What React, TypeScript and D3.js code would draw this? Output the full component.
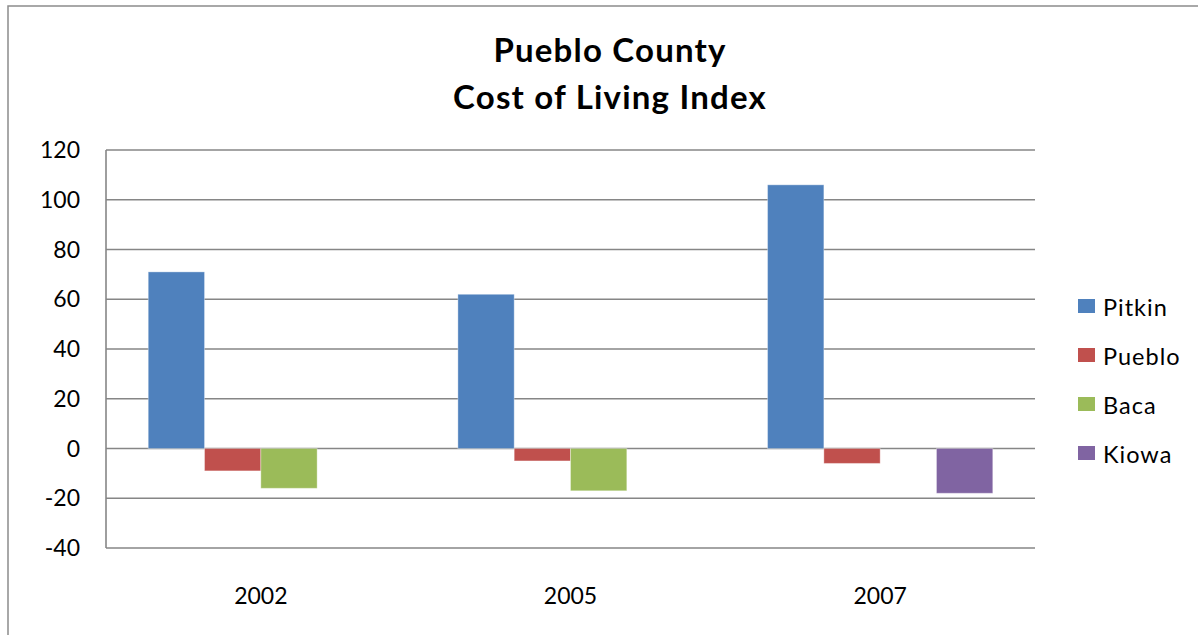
import React from "react";
import * as d3 from "d3";

const categories = ["2002", "2005", "2007"];
const seriesNames = ["Pitkin", "Pueblo", "Baca", "Kiowa"];
const pitkin = [71, 62, 106];
const pueblo = [-9, -5, -6];
const baca: (number | null)[] = [-16, -17, null];
const kiowa: (number | null)[] = [null, null, -18];
const yTicks = [-40, -20, 0, 20, 40, 60, 80, 100, 120];
const colors = ["#4F81BD", "#C0504D", "#9BBB59", "#8064A2"];
const titleLines = ["Pueblo County", "Cost of Living Index"];

const W = 1198;
const H = 635;
const plot = { left: 106, right: 1035, top: 150, bottom: 548 };
const FONT = "Lato, 'Open Sans', sans-serif";

export default function App() {
  const values = [pitkin, pueblo, baca, kiowa];
  const x0 = d3.scaleBand<string>().domain(categories).range([plot.left, plot.right]).paddingInner(0).paddingOuter(0);
  const bw = x0.bandwidth() / (seriesNames.length + 1.5);
  const x1 = d3
    .scaleBand<string>()
    .domain(seriesNames)
    .range([0, bw * seriesNames.length]);
  const y = d3.scaleLinear().domain([-40, 120]).range([plot.bottom, plot.top]);
  const gridColor = "#868686";

  return (
    <svg width={W} height={H} style={{ position: "absolute", left: 0, top: 0, background: "#fff" }}>
      <rect x={8} y={6} width={1300} height={800} fill="#fff" stroke="#8c8c8c" strokeWidth={1.5} />
      {titleLines.map((t, i) => (
        <text key={t} x={610} y={62 + i * 46.5} textAnchor="middle" fontFamily={FONT} fontWeight={700} fontSize={33} letterSpacing={1.2} fill="#000">
          {t}
        </text>
      ))}
      {yTicks.map((t) => (
        <g key={t}>
          <line x1={plot.left} x2={plot.right} y1={y(t)} y2={y(t)} stroke={gridColor} strokeWidth={1.6} />
          <text x={80} y={y(t) + 8} textAnchor="end" fontFamily={FONT} fontSize={23} fill="#000">
            {t}
          </text>
        </g>
      ))}
      <line x1={plot.left} x2={plot.left} y1={plot.top} y2={plot.bottom} stroke={gridColor} strokeWidth={1.6} />
      {categories.map((c, ci) => {
        const start = (x0(c) as number) + (x0.bandwidth() - bw * seriesNames.length) / 2;
        return (
          <g key={c}>
            {seriesNames.map((s, si) => {
              const v = values[si][ci];
              if (v === null || v === undefined) return null;
              const yy = Math.min(y(v), y(0));
              const hh = Math.abs(y(v) - y(0));
              return (
                <rect
                  key={s}
                  x={start + (x1(s) as number)}
                  y={yy}
                  width={x1.bandwidth()}
                  height={hh}
                  fill={colors[si]}
                  stroke="rgba(255,255,255,0.35)"
                  strokeWidth={1}
                />
              );
            })}
            <text x={(x0(c) as number) + x0.bandwidth() / 2} y={604} textAnchor="middle" fontFamily={FONT} fontSize={23} fill="#000">
              {c}
            </text>
          </g>
        );
      })}
      {seriesNames.map((s, i) => (
        <g key={s} transform={`translate(1078, ${299 + i * 49})`}>
          <rect x={0} y={0} width={17} height={14} fill={colors[i]} />
          <text x={25} y={17} fontFamily={FONT} fontSize={23.5} letterSpacing={1} fill="#000">
            {s}
          </text>
        </g>
      ))}
    </svg>
  );
}
